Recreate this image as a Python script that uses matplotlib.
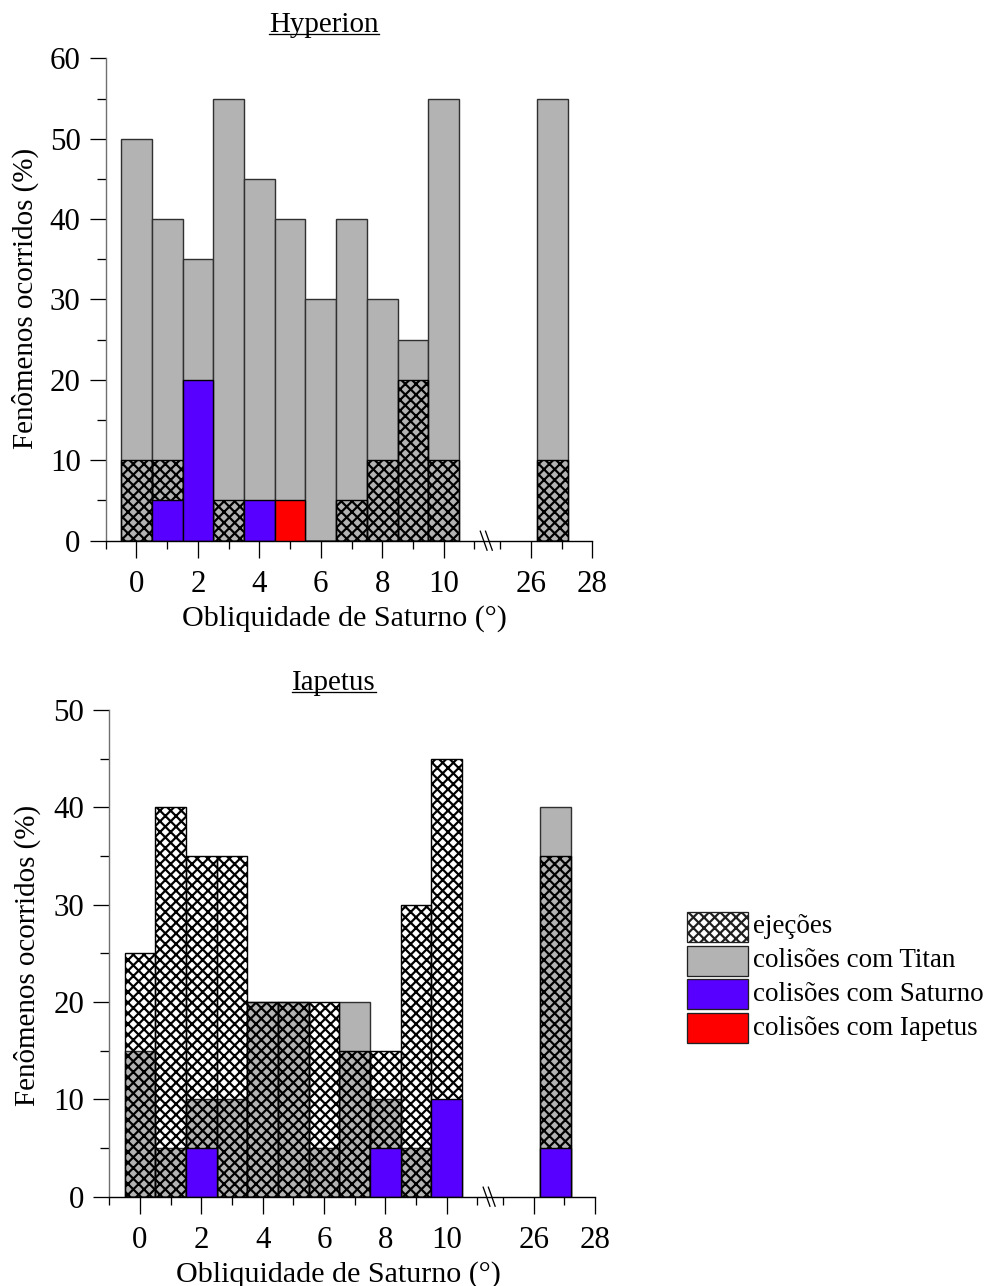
import numpy as np
import matplotlib
matplotlib.use('Agg')
import matplotlib.pyplot as plt
from matplotlib.patches import Rectangle
from matplotlib.lines import Line2D
from matplotlib.transforms import blended_transform_factory

# obliquidade (graus) de cada barra; a ultima e a obliquidade atual
obliq = [0, 1, 2, 3, 4, 5, 6, 7, 8, 9, 10, 26.7]
xt_major = [0, 2, 4, 6, 8, 10, 26, 28]
xt_minor = [-1, 1, 3, 5, 7, 9, 11, 25, 27]

# Hyperion (%)
hyp_titan = [50, 40, 35, 55, 45, 40, 30, 40, 30, 25, 55, 55]
hyp_ejec = [10, 10, 0, 5, 0, 0, 0, 5, 10, 20, 10, 10]
hyp_saturno = [0, 5, 20, 0, 5, 0, 0, 0, 0, 0, 0, 0]
hyp_iapetus = [0, 0, 0, 0, 0, 5, 0, 0, 0, 0, 0, 0]

# Iapetus (%)
iap_titan = [15, 5, 10, 10, 20, 20, 5, 20, 10, 5, 0, 40]
iap_ejec = [25, 40, 35, 35, 20, 20, 20, 15, 15, 30, 45, 35]
iap_saturno = [0, 0, 5, 0, 0, 0, 0, 0, 5, 0, 10, 5]
iap_iapetus = [0, 0, 0, 0, 0, 0, 0, 0, 0, 0, 0, 0]

legend_labels = ['ejeções', 'colisões com Titan', 'colisões com Saturno',
                 'colisões com Iapetus']

DPI = 64
W, H = 989, 1286
GAP = 13.16  # eixo quebrado entre 11 e 25
GRAY = '#b3b3b3'
BLUE = '#5800ff'
RED = '#ff0000'
HATCH = 'xx'


def pt(px):
    return px * 72.0 / DPI


def pos(x):
    x = np.asarray(x, dtype=float)
    return np.where(x > 11.5, x - GAP, x)


plt.rcParams['font.family'] = ['Liberation Serif', 'DejaVu Serif']
plt.rcParams['hatch.linewidth'] = pt(2.2)
plt.rcParams['hatch.color'] = 'black'

fig = plt.figure(figsize=(W / DPI, H / DPI), dpi=DPI)


def add_ax(left, top, right, bottom):
    return fig.add_axes([left / W, 1 - bottom / H, (right - left) / W, (bottom - top) / H])


def panel(ax, titan, ejec, saturno, iapetus, ymax, hpx):
    xp = pos(obliq)
    lw = pt(1.4)
    ax.bar(xp, titan, width=1, color=GRAY, edgecolor='#303030', linewidth=lw, zorder=2)
    ax.bar(xp, ejec, width=1, facecolor='none', edgecolor='black', hatch=HATCH,
           linewidth=lw, zorder=3)
    ax.bar(xp, saturno, width=1, color=BLUE, edgecolor='black', linewidth=lw, zorder=4)
    ax.bar(xp, iapetus, width=1, color=RED, edgecolor='black', linewidth=lw, zorder=4)

    ax.set_xlim(-1, pos(28))
    ax.set_ylim(0, ymax)
    ax.set_xticks(pos(xt_major))
    ax.set_xticklabels([str(t) for t in xt_major])
    ax.set_xticks(pos(xt_minor), minor=True)
    ax.set_yticks(np.arange(0, ymax + 1, 10))
    ax.set_yticks(np.arange(5, ymax, 10), minor=True)

    for s in ['top', 'right']:
        ax.spines[s].set_visible(False)
    ax.spines['left'].set_color('#707070')
    ax.spines['left'].set_linewidth(pt(1.4))
    ax.spines['bottom'].set_linewidth(pt(1.4))

    ax.tick_params(axis='x', which='major', length=pt(17), width=pt(1.3),
                   pad=pt(12), labelsize=pt(31))
    ax.tick_params(axis='x', which='minor', length=pt(8), width=pt(1.3))
    ax.tick_params(axis='y', which='major', length=pt(16), width=pt(1.3),
                   pad=pt(9), labelsize=pt(31))
    ax.tick_params(axis='y', which='minor', length=pt(9), width=pt(1.3))

    # marcas da quebra do eixo
    tr = blended_transform_factory(ax.transData, ax.transAxes)
    dy = 9.5 / hpx
    for xc in (11.3, 11.47):
        ax.add_line(Line2D([xc - 0.11, xc + 0.11], [dy, -dy], transform=tr,
                           color='black', lw=pt(1.3), clip_on=False))


ax1 = add_ax(105.7, 58.3, 105.7 + 15.84 * 30.73, 540.7)
panel(ax1, hyp_titan, hyp_ejec, hyp_saturno, hyp_iapetus, 60, 482.4)
ax2 = add_ax(109.3, 710.0, 109.3 + 15.84 * 30.67, 1196.7)
panel(ax2, iap_titan, iap_ejec, iap_saturno, iap_iapetus, 50, 486.7)


def ftext(x, y, s, **kw):
    return fig.text(x / W, 1 - y / H, s, **kw)


# rotulos dos eixos
for ytop, xc in ((605, 344), (1261, 338)):
    ftext(xc, ytop, 'Obliquidade de Saturno (°)', ha='center', va='top', fontsize=pt(30))
ftext(25, 298, 'Fenômenos ocorridos (%)', rotation=90, ha='center', va='center',
      fontsize=pt(29))
ftext(27, 955, 'Fenômenos ocorridos (%)', rotation=90, ha='center', va='center',
      fontsize=pt(29))

# titulos sublinhados
titles = []
for xc, yb, s in ((324, 31.5, 'Hyperion'), (334, 690, 'Iapetus')):
    titles.append((ftext(xc, yb, s, ha='center', va='baseline', fontsize=pt(29)), yb))

# legenda
handles = [dict(facecolor='white', hatch=HATCH), dict(facecolor=GRAY),
           dict(facecolor=BLUE), dict(facecolor=RED)]
for i, (lab, st) in enumerate(zip(legend_labels, handles)):
    top = 911.7 + i * 33.8
    fig.add_artist(Rectangle((687 / W, 1 - (top + 30) / H), 61 / W, 30 / H,
                             transform=fig.transFigure, edgecolor='#202020',
                             linewidth=pt(1.3), **st))
    ftext(753, top + 15, lab, ha='left', va='center', fontsize=pt(27))

fig.canvas.draw()
r = fig.canvas.get_renderer()
for t, yb in titles:
    bb = t.get_window_extent(r)
    y = 1 - (yb + 2) / H
    fig.add_artist(Line2D([bb.x0 / W, bb.x1 / W], [y, y], transform=fig.transFigure,
                          color='black', lw=pt(1.3)))

fig.savefig('out.png', dpi=DPI)
